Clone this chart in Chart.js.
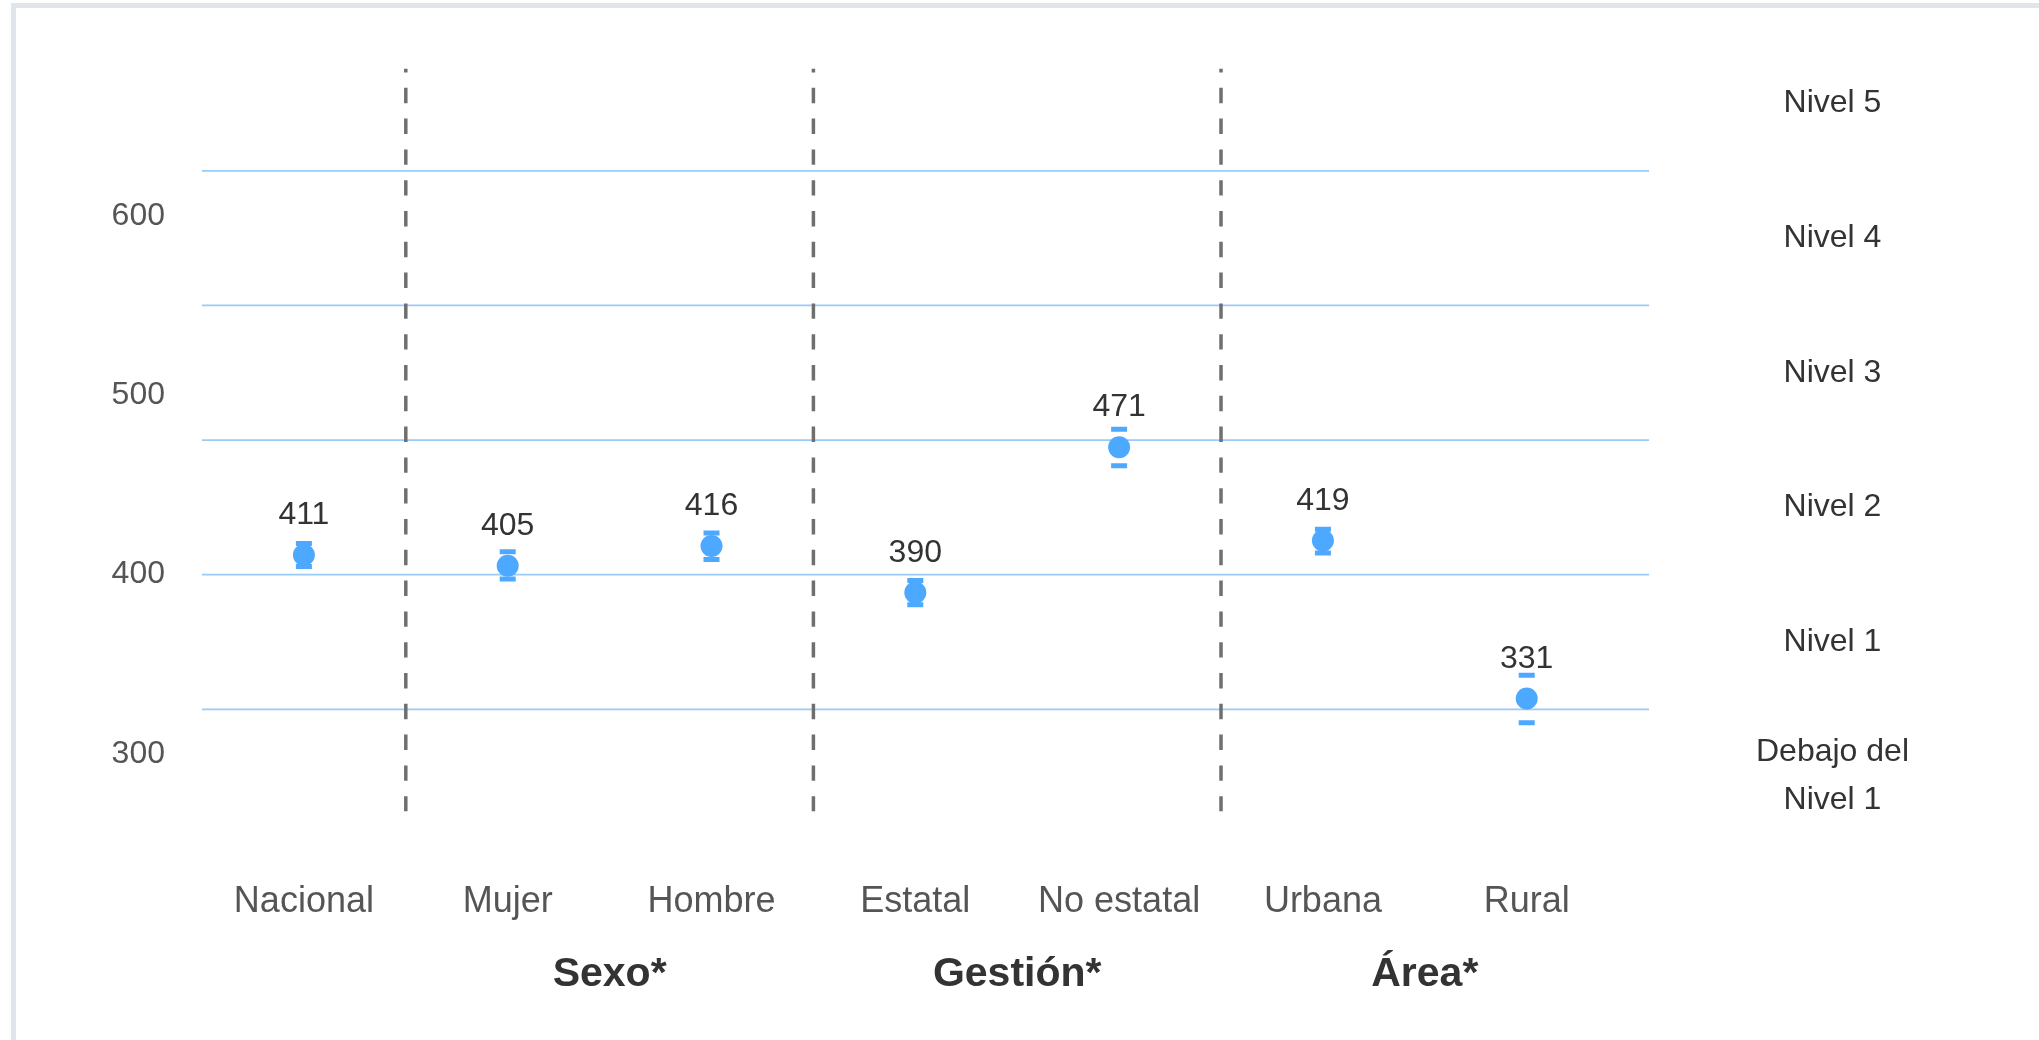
<!DOCTYPE html>
<html lang="es">
<head>
<meta charset="utf-8">
<title>Puntaje promedio por grupo</title>
<script src="https://cdn.jsdelivr.net/npm/chart.js@4.4.1/dist/chart.umd.min.js"></script>
<style>
  html, body { margin: 0; padding: 0; background: #fff; overflow: hidden; }
  body { width: 2039px; height: 1040px; position: relative; }
  .tarjeta { position: absolute; left: 11px; top: 3px; width: 2200px; height: 1200px;
             border: 5px solid #e0e5eb; box-sizing: border-box; background: #fff; }
  #grafico { position: absolute; left: 0; top: 0; }
</style>
</head>
<body>
<div class="tarjeta"></div>
<canvas id="grafico" width="2039" height="1040"></canvas>
<script>
// datos
const categorias = ['Nacional', 'Mujer', 'Hombre', 'Estatal', 'No estatal', 'Urbana', 'Rural'];
const promedios = [411, 405, 416, 390, 471, 419, 331];
const limiteInf = [404.6, 397.6, 408.4, 383.3, 460.7, 412.1, 317.5];
const limiteSup = [417.4, 412.8, 423.2, 396.7, 481.0, 425.3, 344.0];
const grupos = ['Sexo*', 'Gestión*', 'Área*'];
const posGrupos = [1.5, 3.5, 5.5];
const separadores = [0.5, 2.5, 4.5];
const cortesNivel = [325, 400, 475, 550, 625];
const centrosNivel = [287.5, 362.5, 437.5, 512.5, 587.5, 662.5];
const nombresNivel = [['Debajo del', 'Nivel 1'], 'Nivel 1', 'Nivel 2', 'Nivel 3', 'Nivel 4', 'Nivel 5'];
const ticksY = [300, 400, 500, 600];

const X_MIN = -0.5, X_MAX = 6.6;
const Y_MIN = 268, Y_MAX = 682;
const AZUL = '#4da9ff';

Chart.defaults.font.family = '"Liberation Sans", Arial, sans-serif';

// números encima de cada punto
const etiquetasValor = {
    id: 'etiquetasValor',
    afterDatasetsDraw(chart) {
        const meta = chart.getDatasetMeta(0);
        const ctx = chart.ctx;
        ctx.save();
        ctx.font = '32px "Liberation Sans", Arial, sans-serif';
        ctx.fillStyle = '#333';
        ctx.textAlign = 'center';
        ctx.textBaseline = 'alphabetic';
        meta.data.forEach((pt, i) => ctx.fillText(String(promedios[i]), pt.x, pt.y - 31));
        ctx.restore();
    }
};

const datasets = [
    {
        label: 'Promedio',
        data: promedios.map((v, i) => ({ x: i, y: v })),
        pointRadius: 11,
        pointBackgroundColor: AZUL,
        pointBorderWidth: 0,
        order: 0
    },
    {
        label: 'Intervalo',
        data: limiteInf.map((v, i) => ({ x: i, y: v })).concat(limiteSup.map((v, i) => ({ x: i, y: v }))),
        pointStyle: 'line',
        pointRadius: 8,
        pointBorderWidth: 5,
        pointBorderColor: AZUL,
        order: 1
    },
    ...separadores.map(s => ({
        data: [{ x: s, y: Y_MIN }, { x: s, y: Y_MAX }],
        showLine: true,
        borderColor: '#6f6f6f',
        borderWidth: 3.5,
        borderDash: [15.4, 15.4],
        pointRadius: 0,
        order: 2
    })),
    ...cortesNivel.map(c => ({
        data: [{ x: X_MIN, y: c }, { x: X_MAX, y: c }],
        showLine: true,
        borderColor: '#99cbf8',
        borderWidth: 1.8,
        pointRadius: 0,
        order: 3
    }))
];

const sinGrid = { display: false, drawTicks: false };

new Chart(document.getElementById('grafico'), {
    type: 'scatter',
    data: { datasets },
    options: {
        responsive: false,
        animation: false,
        events: [],
        layout: { padding: { left: 102, right: 110, top: 68.5, bottom: 41 } },
        plugins: { legend: { display: false }, tooltip: { enabled: false } },
        scales: {
            x: {
                type: 'linear', min: X_MIN, max: X_MAX,
                grid: sinGrid, border: { display: false },
                afterBuildTicks: s => { s.ticks = categorias.map((c, i) => ({ value: i })); },
                afterFit: s => { s.height = 111.2; },
                ticks: { autoSkip: false, maxRotation: 0, padding: 69, color: '#555', font: { size: 36 },
                         callback: v => categorias[v] }
            },
            xGrupo: {
                axis: 'x', type: 'linear', position: 'bottom', weight: 1, min: X_MIN, max: X_MAX,
                grid: sinGrid, border: { display: false },
                afterBuildTicks: s => { s.ticks = posGrupos.map(v => ({ value: v })); },
                afterFit: s => { s.height = 76.2; },
                ticks: { autoSkip: false, maxRotation: 0, padding: 27, color: '#333',
                         font: { size: 41, weight: 'bold' }, callback: (v, i) => grupos[i] }
            },
            y: {
                type: 'linear', min: Y_MIN, max: Y_MAX,
                grid: sinGrid, border: { display: false },
                afterBuildTicks: s => { s.ticks = ticksY.map(v => ({ value: v })); },
                afterFit: s => { s.width = 100; s.paddingTop = 0; s.paddingBottom = 0; },
                ticks: { padding: 37, color: '#555', font: { size: 32 }, callback: v => String(v) }
            },
            yNivel: {
                axis: 'y', type: 'linear', position: 'right', min: Y_MIN, max: Y_MAX,
                grid: sinGrid, border: { display: false },
                afterBuildTicks: s => { s.ticks = centrosNivel.map(v => ({ value: v })); },
                afterFit: s => { s.width = 280; s.paddingTop = 0; s.paddingBottom = 0; },
                ticks: { autoSkip: false, padding: 107, crossAlign: 'center', color: '#333',
                         font: { size: 32, lineHeight: 1.5 }, callback: (v, i) => nombresNivel[i] }
            }
        }
    },
    plugins: [etiquetasValor]
});
</script>
</body>
</html>
